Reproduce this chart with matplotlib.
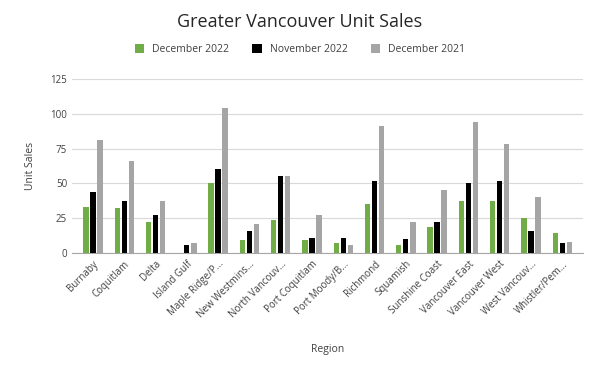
import matplotlib.pyplot as plt
import numpy as np

plt.rcParams['font.family'] = ['Open Sans', 'DejaVu Sans']

regions = ['Burnaby', 'Coquitlam', 'Delta', 'Island Gulf', 'Maple Ridge/P...',
           'New Westmins...', 'North Vancouv...', 'Port Coquitlam', 'Port Moody/B...',
           'Richmond', 'Squamish', 'Sunshine Coast', 'Vancouver East',
           'Vancouver West', 'West Vancouv...', 'Whistler/Pem...']
dec_2022 = [33, 32, 22, 0, 50, 9, 24, 9, 7, 35, 6, 19, 37, 37, 25, 14]
nov_2022 = [44, 37, 27, 6, 60, 16, 55, 11, 11, 52, 10, 22, 50, 52, 16, 7]
dec_2021 = [81, 66, 37, 7, 104, 21, 55, 27, 6, 91, 22, 45, 94, 78, 40, 8]

series = [('December 2022', dec_2022, '#70ad47'),
          ('November 2022', nov_2022, '#000000'),
          ('December 2021', dec_2021, '#a5a5a5')]

fig = plt.figure(figsize=(6, 3.69), dpi=100)
ax = fig.add_axes([0.12, 0.3144, 0.852, 0.4716])

x = np.arange(len(regions))
width = 0.17
step = 0.225
for i, (name, vals, col) in enumerate(series):
    ax.bar(x + (i - 1) * step, vals, width, color=col, label=name, zorder=3)

ax.set_xlim(-0.67, len(regions) - 0.33)
ax.set_ylim(0, 125)
ax.set_yticks(range(0, 126, 25))
ax.grid(axis='y', color='#d9d9d9', linewidth=0.8, zorder=0)
for s in ['top', 'right', 'left']:
    ax.spines[s].set_visible(False)
ax.spines['bottom'].set_color('#a6a6a6')
ax.tick_params(axis='both', length=0, labelsize=7, labelcolor='#404040')
ax.set_xticks(x)
ax.set_xticklabels(regions, rotation=45, ha='right', rotation_mode='anchor')
ax.tick_params(axis='x', pad=4)

ax.set_xlabel('Region', fontsize=7.5, color='#404040', labelpad=17)
ax.set_ylabel('Unit Sales', fontsize=7.5, color='#404040', labelpad=10)

fig.text(0.5, 0.94, 'Greater Vancouver Unit Sales', ha='center', va='center',
         fontsize=13, color='#262626')
fig.legend(loc='center', bbox_to_anchor=(0.5, 0.865), ncol=3, frameon=False,
           fontsize=7.5, handlelength=0.9, handleheight=0.9, columnspacing=2.2,
           labelcolor='#404040')

fig.savefig('out.png', dpi=100)
